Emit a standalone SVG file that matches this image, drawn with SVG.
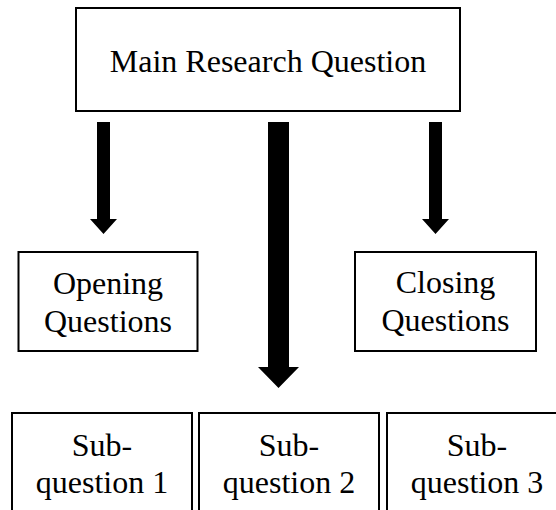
<svg xmlns="http://www.w3.org/2000/svg" width="556" height="510" viewBox="0 0 556 510">
<style>
.box{fill:#fff;stroke:#000;stroke-width:2}
.t{font-family:'Liberation Serif',Tinos,'Times New Roman',Times,'DejaVu Serif',serif;font-size:32px;fill:#000;text-anchor:middle}
.arr{fill:#000}
</style>
<rect width="556" height="510" fill="#fff"/>
<g id="connectors">
<polygon class="arr" points="97,122 110,122 110,219 117,219 103.5,234 90,219 97,219"/>
<polygon class="arr" points="268,122 289,122 289,367 299,367 278.5,388 258,367 268,367"/>
<polygon class="arr" points="429,122 442,122 442,219 449,219 435.5,234 422,219 429,219"/>
</g>
<g id="main">
<rect class="box" x="76" y="8" width="384" height="103"/>
<text class="t" x="268" y="72">Main Research Question</text>
</g>
<g id="opening">
<rect class="box" x="18.5" y="252" width="179" height="99"/>
<text class="t" x="108" y="294">Opening</text>
<text class="t" x="108" y="332">Questions</text>
</g>
<g id="closing">
<rect class="box" x="355" y="252" width="181" height="99"/>
<text class="t" x="445.5" y="293">Closing</text>
<text class="t" x="445.5" y="331">Questions</text>
</g>
<g id="sub1">
<rect class="box" x="12" y="413" width="180" height="120"/>
<text class="t" x="102" y="456">Sub-</text>
<text class="t" x="102" y="493">question 1</text>
</g>
<g id="sub2">
<rect class="box" x="199" y="413" width="180" height="120"/>
<text class="t" x="289" y="456">Sub-</text>
<text class="t" x="289" y="493">question 2</text>
</g>
<g id="sub3">
<rect class="box" x="387" y="413" width="180" height="120"/>
<text class="t" x="477" y="456">Sub-</text>
<text class="t" x="477" y="493">question 3</text>
</g>
</svg>
